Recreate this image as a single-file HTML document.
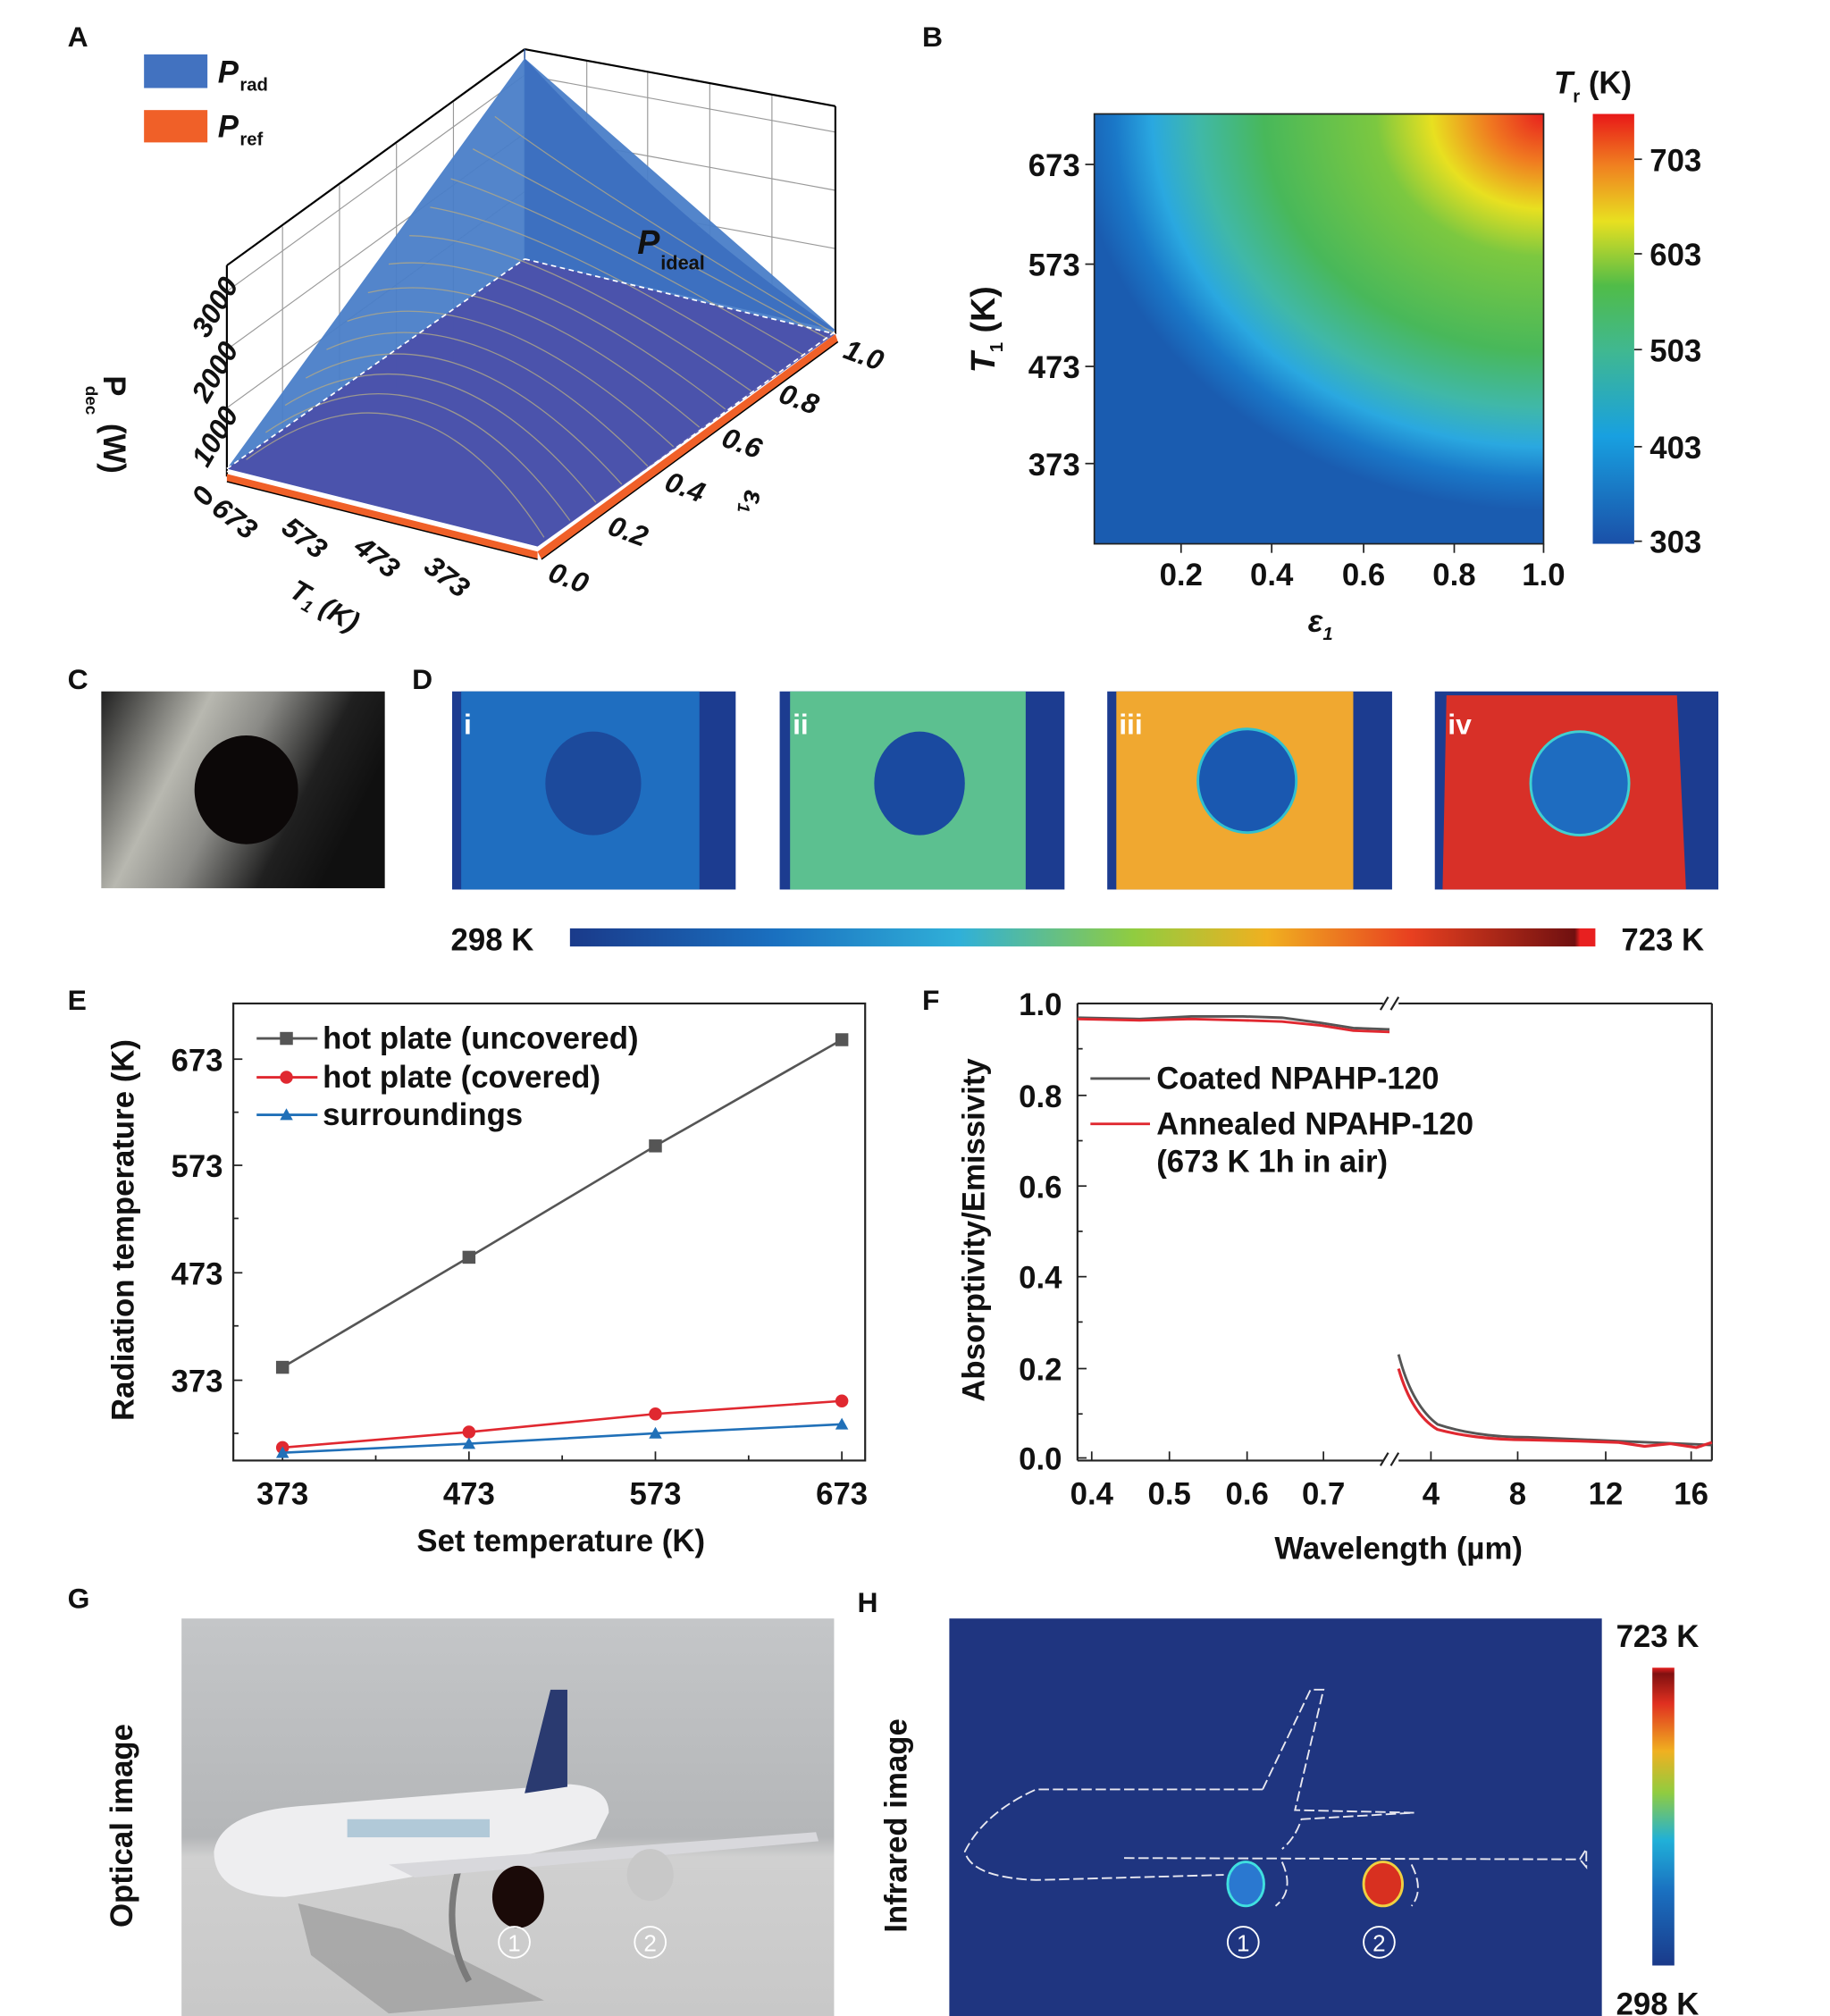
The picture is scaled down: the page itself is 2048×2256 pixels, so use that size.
<!DOCTYPE html>
<html><head><meta charset="utf-8"><style>
html,body{margin:0;padding:0;background:#fff}
svg{display:block}
text{font-family:"Liberation Sans",sans-serif;font-weight:bold;fill:#111}
</style></head><body>
<svg width="2048" height="2256" viewBox="0 0 1413 1557" xmlns="http://www.w3.org/2000/svg">
<defs>
<radialGradient id="hm" gradientUnits="userSpaceOnUse" cx="1192" cy="88" r="360" gradientTransform="translate(1192 88) scale(1 0.85) translate(-1192 -88)">
<stop offset="0" stop-color="#e8201e"/><stop offset="0.12" stop-color="#f07a20"/><stop offset="0.24" stop-color="#e8e020"/><stop offset="0.36" stop-color="#7cc840"/><stop offset="0.6" stop-color="#48b85a"/><stop offset="0.74" stop-color="#40b8a8"/><stop offset="0.84" stop-color="#2aa8e0"/><stop offset="0.92" stop-color="#1a78c8"/><stop offset="1" stop-color="#1a5cb0"/>
</radialGradient>
<linearGradient id="cbB" x1="0" y1="1" x2="0" y2="0">
<stop offset="0" stop-color="#1a50a8"/><stop offset="0.25" stop-color="#18a0e0"/><stop offset="0.45" stop-color="#40b890"/><stop offset="0.6" stop-color="#50bc48"/><stop offset="0.75" stop-color="#e8e020"/><stop offset="0.88" stop-color="#f08020"/><stop offset="1" stop-color="#e81818"/>
</linearGradient>
<linearGradient id="cbD" x1="0" y1="0" x2="1" y2="0">
<stop offset="0" stop-color="#1a3a8a"/><stop offset="0.2" stop-color="#1a70c0"/><stop offset="0.38" stop-color="#30b0d8"/><stop offset="0.55" stop-color="#90cc40"/><stop offset="0.68" stop-color="#f0b020"/><stop offset="0.82" stop-color="#e84020"/><stop offset="0.98" stop-color="#701010"/><stop offset="0.985" stop-color="#e82020"/><stop offset="1" stop-color="#e82020"/>
</linearGradient>
<linearGradient id="cbH" x1="0" y1="1" x2="0" y2="0">
<stop offset="0" stop-color="#1a3a8a"/><stop offset="0.25" stop-color="#1a70c0"/><stop offset="0.42" stop-color="#20b0d8"/><stop offset="0.58" stop-color="#90cc40"/><stop offset="0.72" stop-color="#f0b020"/><stop offset="0.88" stop-color="#e03020"/><stop offset="0.98" stop-color="#801010"/><stop offset="1" stop-color="#e82020"/>
</linearGradient>
<linearGradient id="photoC" x1="0" y1="0" x2="1" y2="0.35">
<stop offset="0" stop-color="#202020"/><stop offset="0.35" stop-color="#b8b8b0"/><stop offset="0.55" stop-color="#8a8a86"/><stop offset="0.8" stop-color="#202020"/><stop offset="1" stop-color="#101010"/>
</linearGradient>
<linearGradient id="photoG" x1="0" y1="0" x2="0" y2="1">
<stop offset="0" stop-color="#c4c6c8"/><stop offset="0.55" stop-color="#b4b6b8"/><stop offset="0.6" stop-color="#d0d0d0"/><stop offset="1" stop-color="#c8c8c8"/>
</linearGradient>
</defs>

<!-- Panel labels -->
<text x="52" y="36" font-size="22">A</text>
<text x="712" y="36" font-size="22">B</text>
<text x="52" y="532" font-size="22">C</text>
<text x="318" y="532" font-size="22">D</text>
<text x="52" y="780" font-size="22">E</text>
<text x="712" y="780" font-size="22">F</text>
<text x="52" y="1242" font-size="22">G</text>
<text x="662" y="1245" font-size="22">H</text>

<!-- ===== Panel A ===== -->
<rect x="111" y="42" width="49" height="26" fill="#4272c0"/>
<rect x="111" y="85" width="49" height="25" fill="#f06028"/>
<text x="168" y="64" font-size="24" font-style="italic">P</text><text x="185" y="70" font-size="14">rad</text>
<text x="168" y="106" font-size="24" font-style="italic">P</text><text x="185" y="112" font-size="14">ref</text>
<!-- back grid -->
<g stroke="#999" stroke-width="0.8" fill="none">
<line x1="218" y1="175" x2="218" y2="340"/><line x1="262" y1="143" x2="262" y2="320"/><line x1="306" y1="111" x2="306" y2="300"/><line x1="350" y1="79" x2="350" y2="280"/>
<line x1="453" y1="47" x2="453" y2="212"/><line x1="500" y1="56" x2="500" y2="222"/><line x1="548" y1="64" x2="548" y2="233"/><line x1="596" y1="73" x2="596" y2="245"/>
<line x1="175" y1="315" x2="405" y2="148"/><line x1="175" y1="270" x2="405" y2="103"/><line x1="175" y1="225" x2="405" y2="58"/>
<line x1="405" y1="148" x2="645" y2="192"/><line x1="405" y1="103" x2="645" y2="147"/><line x1="405" y1="58" x2="645" y2="102"/>
</g>
<g stroke="#000" stroke-width="1.5" fill="none">
<line x1="175" y1="205" x2="175" y2="368"/><line x1="175" y1="205" x2="405" y2="38"/><line x1="405" y1="38" x2="645" y2="82"/><line x1="645" y1="82" x2="645" y2="258"/>
</g>
<line x1="405" y1="38" x2="405" y2="200" stroke="#2050a0" stroke-width="1"/>
<!-- surfaces -->
<polygon points="175,362 405,45 645,255 415,422" fill="#4a7ec8" fill-opacity="0.95"/>
<path d="M405,45 Q520,170 645,255 L405,200 Z" fill="#3d70c0"/>
<polygon points="175,362 405,200 645,258 415,422" fill="#4a4ea8" fill-opacity="0.9"/>
<g stroke="#b0a888" stroke-width="0.9" fill="none" opacity="0.8">
<path d="M190,355 Q320,260 420,415"/><path d="M205,334 Q330,250 440,402"/><path d="M220,313 Q340,240 460,388"/><path d="M236,292 Q350,230 480,374"/><path d="M252,270 Q362,220 500,360"/><path d="M268,248 Q375,212 520,345"/><path d="M284,226 Q388,202 540,330"/><path d="M300,204 Q400,192 560,316"/><path d="M316,182 Q412,184 580,302"/><path d="M332,160 Q425,176 600,288"/><path d="M348,138 Q438,168 620,274"/><path d="M365,115 Q450,160 640,262"/><path d="M382,90 Q462,150 645,258"/>
</g>
<g stroke="#fff" stroke-width="1.2" stroke-dasharray="4,3" fill="none">
<line x1="175" y1="362" x2="405" y2="200"/><line x1="405" y1="200" x2="645" y2="258"/>
<line x1="175" y1="364" x2="415" y2="424"/><line x1="415" y1="424" x2="645" y2="256"/>
</g>
<polygon points="175,366 415,426 415,432 175,372" fill="#f06028"/>
<polygon points="415,426 645,258 647,264 418,432" fill="#f06028"/>
<line x1="175" y1="372" x2="415" y2="432" stroke="#000" stroke-width="1"/>
<line x1="418" y1="432" x2="647" y2="264" stroke="#000" stroke-width="1"/>
<text x="492" y="196" font-size="26" font-style="italic">P</text><text x="510" y="208" font-size="15">ideal</text>
<g font-size="22" font-style="italic">
<text transform="translate(160,392) rotate(-60)">0</text>
<text transform="translate(160,362) rotate(-60)">1000</text>
<text transform="translate(160,312) rotate(-60)">2000</text>
<text transform="translate(160,262) rotate(-60)">3000</text>
<text transform="translate(162,395) rotate(38)">673</text>
<text transform="translate(216,410) rotate(38)">573</text>
<text transform="translate(272,425) rotate(38)">473</text>
<text transform="translate(326,440) rotate(38)">373</text>
<text transform="translate(222,460) rotate(30)">T<tspan font-size="13" dy="4">1</tspan><tspan dy="-4"> (K)</tspan></text>
<text transform="translate(422,448) rotate(20)">0.0</text>
<text transform="translate(468,412) rotate(20)">0.2</text>
<text transform="translate(512,378) rotate(20)">0.4</text>
<text transform="translate(556,344) rotate(20)">0.6</text>
<text transform="translate(600,310) rotate(20)">0.8</text>
<text transform="translate(650,276) rotate(20)">1.0</text>
<text transform="translate(575,378) rotate(95)">ε<tspan font-size="13" dy="4">1</tspan></text>
</g>
<text transform="translate(80,290) rotate(90)" font-size="24">P<tspan font-size="13" dy="14" dx="-8">dec</tspan><tspan dy="-14"> (W)</tspan></text>

<!-- ===== Panel B ===== -->
<rect x="845" y="88" width="347" height="332" fill="#1a5cb0"/>
<rect x="845" y="88" width="347" height="332" fill="url(#hm)"/>
<rect x="845" y="88" width="347" height="332" fill="none" stroke="#222" stroke-width="1.2"/>
<rect x="1230" y="88" width="32" height="332" fill="url(#cbB)"/>
<g stroke="#222" stroke-width="1.2">
<line x1="838" y1="127" x2="845" y2="127"/><line x1="838" y1="204" x2="845" y2="204"/><line x1="838" y1="283" x2="845" y2="283"/><line x1="838" y1="358" x2="845" y2="358"/>
<line x1="912" y1="420" x2="912" y2="427"/><line x1="982" y1="420" x2="982" y2="427"/><line x1="1053" y1="420" x2="1053" y2="427"/><line x1="1123" y1="420" x2="1123" y2="427"/><line x1="1192" y1="420" x2="1192" y2="427"/>
<line x1="1262" y1="123" x2="1268" y2="123"/><line x1="1262" y1="196" x2="1268" y2="196"/><line x1="1262" y1="270" x2="1268" y2="270"/><line x1="1262" y1="345" x2="1268" y2="345"/><line x1="1262" y1="418" x2="1268" y2="418"/>
</g>
<g font-size="24" text-anchor="end">
<text x="834" y="136">673</text><text x="834" y="213">573</text><text x="834" y="292">473</text><text x="834" y="367">373</text>
</g>
<g font-size="24" text-anchor="middle">
<text x="912" y="452">0.2</text><text x="982" y="452">0.4</text><text x="1053" y="452">0.6</text><text x="1123" y="452">0.8</text><text x="1192" y="452">1.0</text>
</g>
<g font-size="24">
<text x="1274" y="132">703</text><text x="1274" y="205">603</text><text x="1274" y="279">503</text><text x="1274" y="354">403</text><text x="1274" y="427">303</text>
</g>
<text x="1010" y="488" font-size="24" font-style="italic">ε<tspan font-size="14" dy="6">1</tspan></text>
<text transform="translate(768,288) rotate(-90)" font-size="26"><tspan font-style="italic">T</tspan><tspan font-size="14" dy="6">1</tspan><tspan dy="-6"> (K)</tspan></text>
<text x="1200" y="72" font-size="24"><tspan font-style="italic">T</tspan><tspan font-size="14" dy="7">r</tspan><tspan dy="-7"> (K)</tspan></text>

<!-- ===== Panel C ===== -->
<rect x="78" y="534" width="219" height="152" fill="url(#photoC)"/>
<ellipse cx="190" cy="610" rx="40" ry="42" fill="#0c0808"/>

<!-- ===== Panel D ===== -->
<g>
<rect x="349" y="534" width="219" height="153" fill="#1c3c90"/>
<rect x="356" y="534" width="184" height="153" fill="#1f6ec0"/>
<ellipse cx="458" cy="605" rx="37" ry="40" fill="#1c4a9c"/>
<text x="358" y="567" font-size="22" fill="#fff" style="fill:#fff">i</text>
</g>
<g>
<rect x="602" y="534" width="220" height="153" fill="#1c3c90"/>
<rect x="610" y="534" width="182" height="153" fill="#5cc090"/>
<ellipse cx="710" cy="605" rx="35" ry="40" fill="#1a4aa0"/>
<text x="612" y="567" font-size="22" style="fill:#fff">ii</text>
</g>
<g>
<rect x="855" y="534" width="220" height="153" fill="#1c3c90"/>
<rect x="862" y="534" width="183" height="153" fill="#f0a830"/>
<ellipse cx="963" cy="603" rx="38" ry="40" fill="#1a58b0" stroke="#30c0d0" stroke-width="2"/>
<text x="864" y="567" font-size="22" style="fill:#fff">iii</text>
</g>
<g>
<rect x="1108" y="534" width="219" height="153" fill="#1c3c90"/>
<polygon points="1117,537 1295,537 1302,687 1114,687" fill="#d83028"/>
<ellipse cx="1220" cy="605" rx="38" ry="40" fill="#1e6cc0" stroke="#40d0d0" stroke-width="2"/>
<text x="1118" y="567" font-size="22" style="fill:#fff">iv</text>
</g>
<rect x="440" y="717" width="792" height="14" fill="url(#cbD)"/>
<text x="348" y="734" font-size="24">298 K</text>
<text x="1252" y="734" font-size="24">723 K</text>

<!-- ===== Panel E ===== -->
<rect x="180" y="775" width="488" height="353" fill="none" stroke="#222" stroke-width="1.5"/>
<g stroke="#222" stroke-width="1.2">
<line x1="218" y1="1128" x2="218" y2="1121"/><line x1="362" y1="1128" x2="362" y2="1121"/><line x1="506" y1="1128" x2="506" y2="1121"/><line x1="650" y1="1128" x2="650" y2="1121"/>
<line x1="290" y1="1128" x2="290" y2="1124"/><line x1="434" y1="1128" x2="434" y2="1124"/><line x1="578" y1="1128" x2="578" y2="1124"/>
<line x1="180" y1="818" x2="187" y2="818"/><line x1="180" y1="900" x2="187" y2="900"/><line x1="180" y1="983" x2="187" y2="983"/><line x1="180" y1="1066" x2="187" y2="1066"/>
<line x1="180" y1="859" x2="184" y2="859"/><line x1="180" y1="941" x2="184" y2="941"/><line x1="180" y1="1024" x2="184" y2="1024"/><line x1="180" y1="1107" x2="184" y2="1107"/>
</g>
<g font-size="24" text-anchor="end">
<text x="172" y="827">673</text><text x="172" y="909">573</text><text x="172" y="992">473</text><text x="172" y="1075">373</text>
</g>
<g font-size="24" text-anchor="middle">
<text x="218" y="1162">373</text><text x="362" y="1162">473</text><text x="506" y="1162">573</text><text x="650" y="1162">673</text>
</g>
<text x="433" y="1198" font-size="24" text-anchor="middle">Set temperature (K)</text>
<text transform="translate(103,950) rotate(-90)" font-size="24" text-anchor="middle">Radiation temperature (K)</text>
<polyline points="218,1056 362,971 506,885 650,803" fill="none" stroke="#555" stroke-width="1.8"/>
<g fill="#555"><rect x="213" y="1051" width="10" height="10"/><rect x="357" y="966" width="10" height="10"/><rect x="501" y="880" width="10" height="10"/><rect x="645" y="798" width="10" height="10"/></g>
<polyline points="218,1118 362,1106 506,1092 650,1082" fill="none" stroke="#e02830" stroke-width="1.8"/>
<g fill="#e02830"><circle cx="218" cy="1118" r="5"/><circle cx="362" cy="1106" r="5"/><circle cx="506" cy="1092" r="5"/><circle cx="650" cy="1082" r="5"/></g>
<polyline points="218,1122 362,1115 506,1107 650,1100" fill="none" stroke="#2070b8" stroke-width="1.8"/>
<g fill="#2070b8"><polygon points="218,1117 223,1126 213,1126"/><polygon points="362,1110 367,1119 357,1119"/><polygon points="506,1102 511,1111 501,1111"/><polygon points="650,1095 655,1104 645,1104"/></g>
<line x1="198" y1="802" x2="245" y2="802" stroke="#555" stroke-width="2"/><rect x="216" y="797" width="10" height="10" fill="#555"/>
<line x1="198" y1="832" x2="245" y2="832" stroke="#e02830" stroke-width="2"/><circle cx="221" cy="832" r="5" fill="#e02830"/>
<line x1="198" y1="861" x2="245" y2="861" stroke="#2070b8" stroke-width="2"/><polygon points="221,856 226,865 216,865" fill="#2070b8"/>
<g font-size="24">
<text x="249" y="810">hot plate (uncovered)</text><text x="249" y="840">hot plate (covered)</text><text x="249" y="869">surroundings</text>
</g>

<!-- ===== Panel F ===== -->
<g stroke="#222" stroke-width="1.5" fill="none">
<line x1="832" y1="775" x2="832" y2="1128"/><line x1="832" y1="1128" x2="1068" y2="1128"/><line x1="1080" y1="1128" x2="1322" y2="1128"/>
<line x1="832" y1="775" x2="1068" y2="775"/><line x1="1080" y1="775" x2="1322" y2="775"/><line x1="1322" y1="775" x2="1322" y2="1128"/>
<line x1="1066" y1="1132" x2="1072" y2="1122"/><line x1="1074" y1="1132" x2="1080" y2="1122"/>
<line x1="1066" y1="780" x2="1072" y2="770"/><line x1="1074" y1="780" x2="1080" y2="770"/>
</g>
<g stroke="#222" stroke-width="1.2">
<line x1="832" y1="775" x2="839" y2="775"/><line x1="832" y1="846" x2="839" y2="846"/><line x1="832" y1="916" x2="839" y2="916"/><line x1="832" y1="986" x2="839" y2="986"/><line x1="832" y1="1057" x2="839" y2="1057"/><line x1="832" y1="1126" x2="839" y2="1126"/>
<line x1="832" y1="810" x2="836" y2="810"/><line x1="832" y1="881" x2="836" y2="881"/><line x1="832" y1="951" x2="836" y2="951"/><line x1="832" y1="1021" x2="836" y2="1021"/><line x1="832" y1="1092" x2="836" y2="1092"/>
<line x1="843" y1="1128" x2="843" y2="1121"/><line x1="903" y1="1128" x2="903" y2="1121"/><line x1="963" y1="1128" x2="963" y2="1121"/><line x1="1022" y1="1128" x2="1022" y2="1121"/>
<line x1="1105" y1="1128" x2="1105" y2="1121"/><line x1="1172" y1="1128" x2="1172" y2="1121"/><line x1="1240" y1="1128" x2="1240" y2="1121"/><line x1="1306" y1="1128" x2="1306" y2="1121"/>
</g>
<g font-size="24" text-anchor="end">
<text x="820" y="784">1.0</text><text x="820" y="855">0.8</text><text x="820" y="925">0.6</text><text x="820" y="995">0.4</text><text x="820" y="1066">0.2</text><text x="820" y="1135">0.0</text>
</g>
<g font-size="24" text-anchor="middle">
<text x="843" y="1162">0.4</text><text x="903" y="1162">0.5</text><text x="963" y="1162">0.6</text><text x="1022" y="1162">0.7</text>
<text x="1105" y="1162">4</text><text x="1172" y="1162">8</text><text x="1240" y="1162">12</text><text x="1306" y="1162">16</text>
</g>
<text x="1080" y="1204" font-size="24" text-anchor="middle">Wavelength (µm)</text>
<text transform="translate(760,950) rotate(-90)" font-size="24" text-anchor="middle">Absorptivity/Emissivity</text>
<path d="M832,786 L880,787 L920,785 L960,785 L990,786 L1020,790 L1045,794 L1073,795" fill="none" stroke="#555" stroke-width="2"/>
<path d="M832,787 L880,788 L920,787 L960,788 L990,789 L1020,792 L1045,796 L1073,797" fill="none" stroke="#e02830" stroke-width="2"/>
<path d="M1080,1046 Q1090,1085 1110,1100 Q1140,1110 1180,1110 L1250,1113 L1322,1116" fill="none" stroke="#555" stroke-width="2"/>
<path d="M1080,1057 Q1090,1092 1110,1104 Q1140,1112 1180,1112 L1220,1113 L1250,1114 L1270,1117 L1290,1115 L1310,1118 L1322,1114" fill="none" stroke="#e02830" stroke-width="2.2"/>
<line x1="842" y1="833" x2="888" y2="833" stroke="#555" stroke-width="2"/>
<line x1="842" y1="868" x2="888" y2="868" stroke="#e02830" stroke-width="2"/>
<g font-size="24">
<text x="893" y="841">Coated NPAHP-120</text><text x="893" y="876">Annealed NPAHP-120</text><text x="893" y="905">(673 K 1h in air)</text>
</g>

<!-- ===== Panel G ===== -->
<rect x="140" y="1250" width="504" height="307" fill="url(#photoG)"/>
<polygon points="230,1470 310,1490 420,1545 300,1555 240,1510" fill="#9a9a9a" opacity="0.7"/>
<path d="M355,1440 Q340,1490 362,1530" stroke="#7a7a7a" stroke-width="5" fill="none"/>
<path d="M165,1430 Q170,1400 230,1395 L440,1378 Q470,1380 470,1400 L460,1420 Q360,1445 220,1465 Q165,1465 165,1430 Z" fill="#eeeef0"/>
<polygon points="405,1385 425,1305 438,1305 438,1380" fill="#2a3a70"/>
<polygon points="300,1440 630,1415 632,1422 320,1450" fill="#d8d8dc"/>
<ellipse cx="400" cy="1465" rx="20" ry="24" fill="#1a0a08"/>
<ellipse cx="502" cy="1448" rx="18" ry="20" fill="#c8c8c8"/>
<rect x="268" y="1405" width="110" height="14" fill="#88b0c8" opacity="0.6"/>
<g font-size="22" font-weight="normal" style="fill:#fff" text-anchor="middle">
<circle cx="397" cy="1500" r="12" fill="none" stroke="#fff" stroke-width="1.3"/><text x="397" y="1507" style="fill:#fff;font-weight:normal" font-size="18">1</text>
<circle cx="502" cy="1500" r="12" fill="none" stroke="#fff" stroke-width="1.3"/><text x="502" y="1507" style="fill:#fff;font-weight:normal" font-size="18">2</text>
</g>
<text transform="translate(102,1410) rotate(-90)" font-size="24" text-anchor="middle">Optical image</text>

<!-- ===== Panel H ===== -->
<rect x="733" y="1250" width="504" height="307" fill="#1f3580"/>
<g stroke="#e8e8f0" stroke-width="1.3" stroke-dasharray="8,3" fill="none">
<path d="M975,1382 L800,1382 Q760,1400 745,1430 Q750,1450 800,1452 L945,1448"/>
<path d="M975,1382 L1012,1305 L1022,1305 L1000,1398 L1092,1400 L1005,1405 Q1000,1420 990,1428"/>
<path d="M868,1435 L1220,1436 L1225,1428 L1225,1442 L1220,1436"/>
<path d="M1090,1440 Q1100,1460 1090,1472"/>
<path d="M990,1438 Q1000,1460 985,1472"/>
</g>
<ellipse cx="962" cy="1455" rx="14" ry="17" fill="#2a78d0" stroke="#40e0e0" stroke-width="2"/>
<ellipse cx="1068" cy="1455" rx="15" ry="17" fill="#d83020" stroke="#f0d040" stroke-width="2"/>
<circle cx="960" cy="1500" r="12" fill="none" stroke="#fff" stroke-width="1.3"/><text x="960" y="1507" font-size="18" text-anchor="middle" style="fill:#fff;font-weight:normal">1</text>
<circle cx="1065" cy="1500" r="12" fill="none" stroke="#fff" stroke-width="1.3"/><text x="1065" y="1507" font-size="18" text-anchor="middle" style="fill:#fff;font-weight:normal">2</text>
<rect x="1276" y="1288" width="17" height="230" fill="url(#cbH)"/>
<text x="1248" y="1272" font-size="24">723 K</text>
<text x="1248" y="1556" font-size="24">298 K</text>
<text transform="translate(700,1410) rotate(-90)" font-size="24" text-anchor="middle">Infrared image</text>
</svg>
</body></html>
